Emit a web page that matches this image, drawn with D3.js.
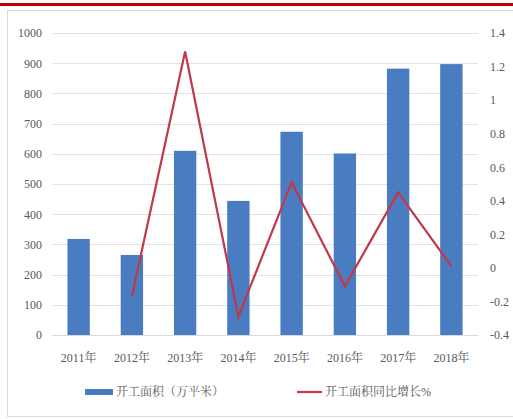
<!DOCTYPE html>
<html><head><meta charset="utf-8">
<script src="https://cdn.jsdelivr.net/npm/d3@7"></script>
<style>body{margin:0;background:#fff;}svg{display:block;}</style>
</head><body>
<svg id="c" width="513" height="419"></svg>
<script>
const categories = ["2011年","2012年","2013年","2014年","2015年","2016年","2017年","2018年"];
const areaValues = [318, 265, 610, 444, 673, 601, 882, 897];
const growthValues = [null, -0.17, 1.29, -0.29, 0.51, -0.11, 0.45, 0.01];
const leftTicks = [0,100,200,300,400,500,600,700,800,900,1000];
const rightTicks = [-0.4,-0.2,0,0.2,0.4,0.6,0.8,1,1.2,1.4];
const seriesNames = ["开工面积（万平米）","开工面积同比增长%"];

(function(){
const svg = d3.select("#c");
const font = "'Liberation Serif','Noto Serif CJK SC','Noto Sans CJK SC',serif";
const textColor = "#595959";

svg.append("rect").attr("x",0).attr("y",3).attr("width",513).attr("height",3).attr("fill","#c00000");
svg.append("rect").attr("x",7.5).attr("y",10.5).attr("width",520).attr("height",406)
  .attr("fill","none").attr("stroke","#d9d9d9").attr("stroke-width",1);

const pL = 52, pR = 478, pT = 33, pB = 335;
const x = d3.scaleBand().domain(categories).range([pL,pR]).paddingInner(0.58).paddingOuter(0.29);
const y = d3.scaleLinear().domain([0,1000]).range([pB,pT]);
const y2 = d3.scaleLinear().domain([-0.4,1.4]).range([pB,pT]);

svg.append("g").selectAll("line").data(leftTicks).join("line")
  .attr("x1",pL).attr("x2",pR)
  .attr("y1",d=>Math.round(y(d))+0.5).attr("y2",d=>Math.round(y(d))+0.5)
  .attr("stroke","#e3e3e3").attr("stroke-width",1);

const la = svg.append("g").attr("transform",`translate(${pL},0)`)
  .call(d3.axisLeft(y).tickValues(leftTicks).tickSize(0).tickPadding(10).tickFormat(d3.format("d")));
la.select(".domain").remove();
la.selectAll("text").attr("fill",textColor).style("font-family",font).style("font-size","12px");

const ra = svg.append("g").attr("transform",`translate(${pR},0)`)
  .call(d3.axisRight(y2).tickValues(rightTicks).tickSize(0).tickPadding(12).tickFormat(d=>String(+d.toFixed(1))));
ra.select(".domain").remove();
ra.selectAll("text").attr("fill",textColor).style("font-family",font).style("font-size","12px");

const xa = svg.append("g").attr("transform",`translate(0,${pB})`)
  .call(d3.axisBottom(x).tickSize(0).tickPadding(18));
xa.select(".domain").attr("stroke","#d9d9d9");
xa.selectAll("text").attr("fill",textColor).style("font-family",font).style("font-size","12px");

svg.append("g").selectAll("rect").data(areaValues).join("rect")
  .attr("x",(d,i)=>x(categories[i])).attr("width",x.bandwidth())
  .attr("y",d=>y(d)).attr("height",d=>y(0)-y(d))
  .attr("fill","#4a7cc2");

const pts = growthValues.map((v,i)=>({c:categories[i],v})).filter(d=>d.v!==null);
svg.append("path").datum(pts)
  .attr("d",d3.line().x(d=>x(d.c)+x.bandwidth()/2).y(d=>y2(d.v)))
  .attr("fill","none").attr("stroke","#c0394a").attr("stroke-width",2.2).attr("stroke-linejoin","miter");

const lg = svg.append("g");
lg.append("rect").attr("x",85).attr("y",389).attr("width",28).attr("height",6).attr("fill","#4a7cc2");
lg.append("text").attr("x",116).attr("y",396).text(seriesNames[0])
  .attr("fill",textColor).style("font-family",font).style("font-size","12px");
lg.append("line").attr("x1",297).attr("x2",322).attr("y1",392).attr("y2",392)
  .attr("stroke","#c0394a").attr("stroke-width",2.2);
lg.append("text").attr("x",325).attr("y",396).text(seriesNames[1])
  .attr("fill",textColor).style("font-family",font).style("font-size","12px");
})();
</script>
</body></html>
